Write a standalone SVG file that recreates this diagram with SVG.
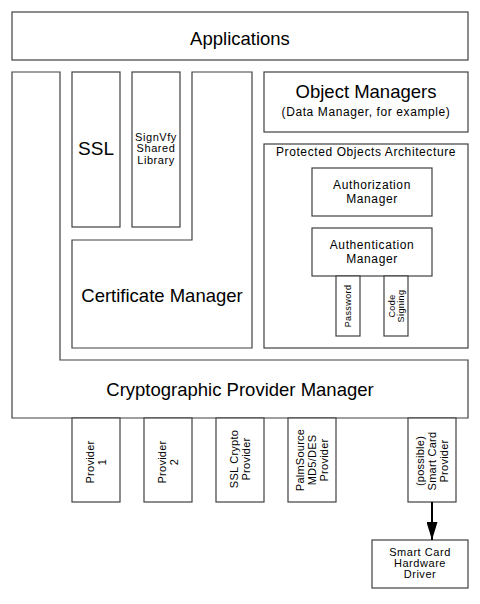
<svg xmlns="http://www.w3.org/2000/svg" width="480" height="604" viewBox="0 0 480 604">
<style>
.b{fill:#fff;stroke:#404040;stroke-width:1.2}
text{font-family:"Liberation Sans",Arial,sans-serif;fill:#000;text-anchor:middle}
.l{font-size:18.5px}
.m{font-size:12px;letter-spacing:0.6px}
.s{font-size:11px;letter-spacing:0.55px}
.p{font-size:11px;letter-spacing:0.25px}
.xs{font-size:9px;letter-spacing:0.4px}
</style>
<defs>
<marker id="ah" viewBox="0 0 10 10" refX="10" refY="5" markerWidth="18" markerHeight="11" markerUnits="userSpaceOnUse" orient="auto" preserveAspectRatio="none">
<path d="M0,0 L10,5 L0,10 z" fill="#000"/>
</marker>
</defs>
<rect width="480" height="604" fill="#fff"/>
<g id="applications">
<rect class="b" x="12" y="12" width="456" height="48"/>
<text class="l" x="240" y="45">Applications</text>
</g>
<g id="crypto-provider-manager">
<path class="b" d="M12,72 H60 V360 H468 V418 H12 Z"/>
<text class="l" x="240" y="396">Cryptographic Provider Manager</text>
</g>
<g id="ssl">
<rect class="b" x="72" y="72" width="48" height="155"/>
<text x="96" y="155" style="font-size:19px">SSL</text>
</g>
<g id="signvfy">
<rect class="b" x="132" y="72" width="48" height="155"/>
<text class="s"><tspan x="156" y="141">SignVfy</tspan><tspan x="156" y="152">Shared</tspan><tspan x="156" y="164">Library</tspan></text>
</g>
<g id="certificate-manager">
<path class="b" d="M192,72 H252 V348 H72 V240 H192 Z"/>
<text class="l" x="162" y="302">Certificate Manager</text>
</g>
<g id="object-managers">
<rect class="b" x="264" y="72" width="204" height="60"/>
<text class="l" x="366" y="98">Object Managers</text>
<text class="m" x="366" y="116">(Data Manager, for example)</text>
</g>
<g id="protected-objects-architecture">
<rect class="b" x="264" y="144" width="204" height="204"/>
<text class="m" x="366" y="156">Protected Objects Architecture</text>
</g>
<g id="authorization-manager">
<rect class="b" x="312" y="168" width="120" height="48"/>
<text class="m"><tspan x="372" y="189">Authorization</tspan><tspan x="372" y="203">Manager</tspan></text>
</g>
<g id="authentication-manager">
<rect class="b" x="312" y="228" width="120" height="48"/>
<text class="m"><tspan x="372" y="249">Authentication</tspan><tspan x="372" y="263">Manager</tspan></text>
</g>
<g id="password">
<rect class="b" x="336" y="276" width="24" height="60"/>
<text class="xs" transform="translate(348,306) rotate(-90)" x="0" y="3">Password</text>
</g>
<g id="code-signing">
<rect class="b" x="384" y="276" width="24" height="60"/>
<text class="xs" transform="translate(396,306) rotate(-90)"><tspan x="0" y="-1.5">Code</tspan><tspan x="0" y="7.5">Signing</tspan></text>
</g>
<g id="provider-1">
<rect class="b" x="72" y="418" width="48" height="84"/>
<text class="p" transform="translate(96,462) rotate(-90)"><tspan x="0" y="-2">Provider</tspan><tspan x="0" y="10">1</tspan></text>
</g>
<g id="provider-2">
<rect class="b" x="144" y="418" width="48" height="84"/>
<text class="p" transform="translate(168,462) rotate(-90)"><tspan x="0" y="-2">Provider</tspan><tspan x="0" y="10">2</tspan></text>
</g>
<g id="ssl-crypto-provider">
<rect class="b" x="216" y="418" width="48" height="84"/>
<text class="p" transform="translate(240,459) rotate(-90)"><tspan x="0" y="-2">SSL Crypto</tspan><tspan x="0" y="10">Provider</tspan></text>
</g>
<g id="palmsource-provider">
<rect class="b" x="288" y="418" width="48" height="84"/>
<text class="p" transform="translate(312,460) rotate(-90)"><tspan x="0" y="-8">PalmSource</tspan><tspan x="0" y="4">MD5/DES</tspan><tspan x="0" y="16">Provider</tspan></text>
</g>
<g id="smart-card-provider">
<rect class="b" x="408" y="418" width="48" height="84"/>
<text class="p" transform="translate(432,461) rotate(-90)"><tspan x="0" y="-8">(possible)</tspan><tspan x="0" y="4">Smart Card</tspan><tspan x="0" y="16">Provider</tspan></text>
</g>
<g id="smart-card-hardware-driver">
<rect class="b" x="372" y="540" width="96" height="48"/>
<text class="s"><tspan x="420" y="556">Smart Card</tspan><tspan x="420" y="567">Hardware</tspan><tspan x="420" y="578">Driver</tspan></text>
</g>
<g id="connectors">
<line x1="432" y1="502" x2="432" y2="540" stroke="#000" stroke-width="2" marker-end="url(#ah)"/>
</g>
</svg>
